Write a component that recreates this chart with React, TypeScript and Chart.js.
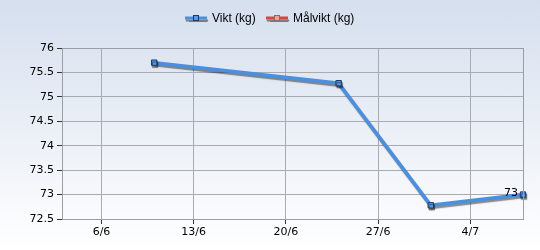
import React, { useEffect, useRef } from "react";
import { Chart, registerables } from "chart.js";

Chart.register(...registerables);

// Day offsets from 3 June
const dayOffsets = [7, 21, 28, 35];
const viktValues = [75.7, 75.28, 72.78, 73.0];
const xTickDays = [3, 10, 17, 24, 31];
const xTickLabels = ["6/6", "13/6", "20/6", "27/6", "4/7"];
const yMin = 72.5;
const yMax = 76;
const yStep = 0.5;
const lastLabel = "73";
const legendLabels = ["Vikt (kg)", "Målvikt (kg)"];

const FONT = "Liberation Sans";
const TICKFONT = "DejaVu Sans";

const decorPlugin = {
  id: "decor",
  beforeDatasetsDraw(chart: any) {
    const ctx = chart.ctx;
    ctx.save();
    ctx.shadowColor = "rgba(0,0,0,0.45)";
    ctx.shadowOffsetX = 1;
    ctx.shadowOffsetY = 2;
    ctx.shadowBlur = 1;
  },
  afterDatasetsDraw(chart: any) {
    const ctx = chart.ctx;
    ctx.restore();
    const { left, top, right, bottom } = chart.chartArea;
    ctx.save();
    ctx.strokeStyle = "#9a9ea6";
    ctx.lineWidth = 1;
    ctx.strokeRect(Math.round(left) + 0.5, Math.round(top) + 0.5, Math.round(right - left), Math.round(bottom - top));
    ctx.restore();
    const meta = chart.getDatasetMeta(0);
    const p = meta.data[meta.data.length - 1];
    ctx.save();
    ctx.font = `11px "${TICKFONT}"`;
    ctx.fillStyle = "#000";
    ctx.textAlign = "right";
    ctx.textBaseline = "middle";
    ctx.fillText(lastLabel, p.x - 5, p.y - 1);
    ctx.restore();
  },
  afterDraw(chart: any) {
    const ctx = chart.ctx;
    ctx.save();
    ctx.font = `12px "${FONT}"`;
    ctx.textBaseline = "middle";
    const y = 18;
    const items = [
      { x: 185, color: "#4a8fe0", label: legendLabels[0], marker: "#5a9ae8", markerBorder: "#1c3a66" },
      { x: 266, color: "#d9473a", label: legendLabels[1], marker: "#e8a49c", markerBorder: "#8a6a6a" },
    ];
    items.forEach((it) => {
      ctx.save();
      ctx.shadowColor = "rgba(0,0,0,0.45)";
      ctx.shadowOffsetX = 1;
      ctx.shadowOffsetY = 2;
      ctx.shadowBlur = 1;
      ctx.strokeStyle = it.color;
      ctx.lineWidth = 3;
      ctx.beginPath();
      ctx.moveTo(it.x, y);
      ctx.lineTo(it.x + 22, y);
      ctx.stroke();
      ctx.restore();
      ctx.fillStyle = it.marker;
      ctx.strokeStyle = it.markerBorder;
      ctx.lineWidth = 1;
      ctx.fillRect(it.x + 11 - 3, y - 3, 6, 6);
      ctx.strokeRect(it.x + 11 - 3 + 0.5, y - 3 + 0.5, 5, 5);
      ctx.fillStyle = "#000";
      ctx.fillText(it.label, it.x + 27, y + 1);
    });
    ctx.restore();
  },
};

export default function App() {
  const ref = useRef<HTMLCanvasElement>(null);
  useEffect(() => {
    if (!ref.current) return;
    const chart = new Chart(ref.current, {
      type: "line",
      data: {
        datasets: [
          {
            label: legendLabels[0],
            data: dayOffsets.map((d, i) => ({ x: d, y: viktValues[i] })),
            borderColor: "#4a8fe0",
            borderWidth: 3.5,
            pointStyle: "rect",
            pointRadius: 3.8,
            pointBackgroundColor: "#5a9ae8",
            pointBorderColor: "#1c3a66",
            pointBorderWidth: 1,
            tension: 0,
            clip: false as any,
          },
          {
            label: legendLabels[1],
            data: [],
            borderColor: "#d9473a",
          },
        ],
      },
      options: {
        animation: false,
        responsive: false,
        maintainAspectRatio: false,
        layout: { padding: { top: 48, right: 17, left: 0, bottom: 0 } },
        plugins: { legend: { display: false }, tooltip: { enabled: false } },
        scales: {
          x: {
            type: "linear",
            min: 0,
            max: 35,
            afterBuildTicks(scale: any) {
              scale.ticks = xTickDays.map((v) => ({ value: v }));
            },
            afterFit(scale: any) {
              scale.height = 31;
            },
            ticks: {
              autoSkip: false,
              maxRotation: 0,
              padding: 2,
              font: { family: TICKFONT, size: 11 },
              color: "#000",
              callback: (v: any) => {
                const i = xTickDays.indexOf(Number(v));
                return i >= 0 ? xTickLabels[i] : "";
              },
            },
            grid: { color: "#a8abb2", tickLength: 5, tickColor: "#333" },
            border: { color: "#7a7e86" },
          },
          y: {
            min: yMin,
            max: yMax,
            ticks: {
              stepSize: yStep,
              padding: 3,
              font: { family: TICKFONT, size: 11 },
              color: "#000",
              callback: (v: any) => String(Number(v)),
            },
            afterFit(scale: any) {
              scale.width = 62;
            },
            grid: { color: "#a8abb2", tickLength: 5, tickColor: "#333" },
            border: { color: "#7a7e86" },
          },
        },
      },
      plugins: [decorPlugin],
    });
    return () => chart.destroy();
  }, []);
  return (
    <div
      style={{
        position: "fixed",
        left: 0,
        top: 0,
        width: 540,
        height: 250,
        background: "linear-gradient(#d5dfee, #ffffff)",
      }}
    >
      <canvas ref={ref} width={540} height={250} style={{ display: "block" }} />
    </div>
  );
}
